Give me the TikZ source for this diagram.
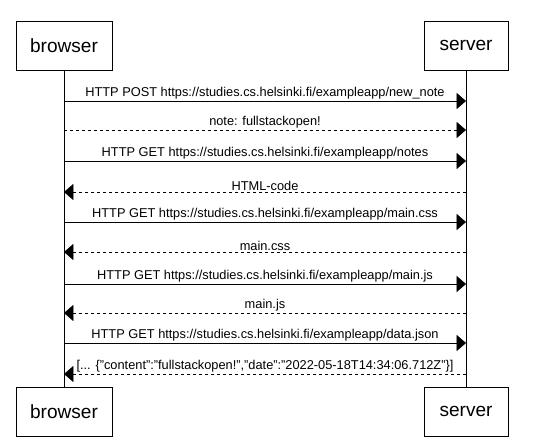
\documentclass[tikz,border=0pt]{standalone}
\usepackage{fontspec}
\setmainfont{Liberation Sans}
\usetikzlibrary{arrows.meta}

\tikzset{
  actor/.style={draw, minimum height=36.75pt, inner sep=0pt, font=\fontsize{14.3}{17}\selectfont},
  msg/.style={-{Triangle[length=7pt,width=12pt]}},
  reply/.style={msg, dash pattern=on 2.25pt off 2.25pt},
  lbl/.style={above, inner sep=1.2pt, font=\fontsize{9.6}{11}\selectfont}
}

\begin{document}
\begin{tikzpicture}[x=0.75pt,y=-0.75pt]
        \path[use as bounding box] (0,0) rectangle (541,447);

        \node[actor,minimum width=72pt] (b1) at (64,45.5) {browser};
        \node[actor,minimum width=63pt] (s1) at (466,45.5) {server};
        \node[actor,minimum width=72pt] (b2) at (64,411.5) {browser};
        \node[actor,minimum width=63pt] (s2) at (466,411.5) {server};
        \path[draw] (b1) -- (b2);
        \path[draw] (s1) -- (s2);

        \foreach \i/\y in {1/101,2/130,3/161,4/192,5/222,6/252,7/284,8/313,9/343,10/374} {
          \coordinate (b\i) at (64,\y);
          \coordinate (s\i) at (466,\y);
        }

        \path[draw,msg] (b1) -- node[lbl] {HTTP POST https://studies.cs.helsinki.fi/exampleapp/new\_note} (s1);
        \path[draw,reply] (b2) -- node[lbl] {note: fullstackopen!} (s2);
        \path[draw,msg] (b3) -- node[lbl] {HTTP GET https://studies.cs.helsinki.fi/exampleapp/notes} (s3);
        \path[draw,reply] (s4) -- node[lbl] {HTML-code} (b4);
        \path[draw,msg] (b5) -- node[lbl] {HTTP GET https://studies.cs.helsinki.fi/exampleapp/main.css} (s5);
        \path[draw,reply] (s6) -- node[lbl] {main.css} (b6);
        \path[draw,msg] (b7) -- node[lbl] {HTTP GET https://studies.cs.helsinki.fi/exampleapp/main.js} (s7);
        \path[draw,reply] (s8) -- node[lbl] {main.js} (b8);
        \path[draw,msg] (b9) -- node[lbl] {HTTP GET https://studies.cs.helsinki.fi/exampleapp/data.json} (s9);
        \path[draw,reply] (s10) -- node[lbl] {[... \{"content":"fullstackopen!","date":"2022-05-18T14:34:06.712Z"\}]} (b10);
    \end{tikzpicture}
\end{document}
